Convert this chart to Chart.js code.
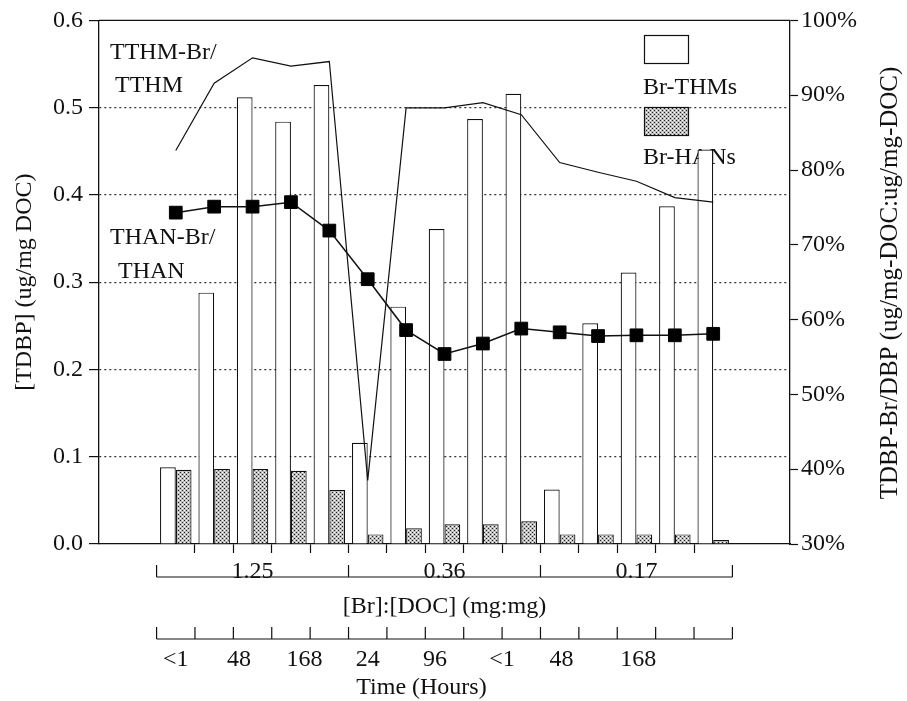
<!DOCTYPE html>
<html>
<head>
<meta charset="utf-8">
<script src="https://cdn.jsdelivr.net/npm/chart.js"></script>
<style>
    html, body { margin: 0; padding: 0; background: #fff; }
    #canvasGraph { display: block; }
</style>
</head>
<body>
<canvas id="canvasGraph" width="907" height="701"></canvas>
<script>
// groupes [Br]:[DOC] (5 temps de contact par groupe)
const ratios = ["1.25", "0.36", "0.17"]
const categoriesParRatio = 5
const categories = [0, 1, 2, 3, 4, 5, 6, 7, 8, 9, 10, 11, 12, 13, 14]
const tempsLabels = ["<1", "48", "168", "24", "96", "<1", "48", "168"]

// valeurs
const brTHMs = [0.088, 0.288, 0.512, 0.484, 0.526, 0.116, 0.272, 0.361, 0.487, 0.516, 0.0625, 0.253, 0.311, 0.387, 0.452]
const brHANs = [0.085, 0.086, 0.086, 0.084, 0.062, 0.011, 0.018, 0.0225, 0.0225, 0.026, 0.011, 0.011, 0.011, 0.011, 0.0045]
const tthmBrRatio = [82.6, 91.6, 95.0, 93.9, 94.5, 38.5, 88.3, 88.3, 89.0, 87.4, 81.0, 79.7, 78.5, 76.3, 75.7]
const thanBrRatio = [74.3, 75.1, 75.1, 75.7, 71.9, 65.4, 58.6, 55.4, 56.8, 58.8, 58.3, 57.8, 57.9, 57.9, 58.1]

const ticksGauche = [0, 0.1, 0.2, 0.3, 0.4, 0.5, 0.6]
const ticksDroite = [30, 40, 50, 60, 70, 80, 90, 100]

// placement des labels de temps (en unités de catégorie, comme sur l'original)
const tempsPositions = [0, 1.65, 3.35, 5, 6.75, 8.5, 10.05, 12.05]

const police = "'Liberation Serif', 'Times New Roman', serif"
const noir = "#111"

function creerMotif() {
    let c = document.createElement("canvas")
    c.width = 4
    c.height = 4
    let g = c.getContext("2d")
    g.fillStyle = "#bdbdbd"
    g.fillRect(0, 0, 4, 4)
    g.fillStyle = "#1e1e1e"
    g.fillRect(0, 0, 1, 1)
    g.fillRect(2, 2, 1, 1)
    g.fillStyle = "#ffffff"
    g.fillRect(2, 0, 1, 1)
    g.fillRect(0, 2, 1, 1)
    return g.createPattern(c, "repeat")
}

const motif = creerMotif()

function points(valeurs) {
    return categories.map((c, i) => ({x: c, y: valeurs[i]}))
}

const pluginDessins = {
    id: "dessins",
    beforeDatasetsDraw(chart) {
        let ctx = chart.ctx
        let zone = chart.chartArea
        ctx.save()
        // cadre du haut
        ctx.strokeStyle = noir
        ctx.lineWidth = 1.3
        ctx.beginPath()
        ctx.moveTo(zone.left, zone.top)
        ctx.lineTo(zone.right, zone.top)
        ctx.stroke()

        // textes dans le graphique
        ctx.fillStyle = noir
        ctx.font = "24px " + police
        ctx.textAlign = "left"
        ctx.textBaseline = "middle"
        ctx.fillText("TTHM-Br/", 110, 53)
        ctx.fillText("TTHM", 115, 86)
        ctx.fillText("THAN-Br/", 110, 238)
        ctx.fillText("THAN", 118, 272)

        // légende, dessinée sous les barres comme sur l'original
        ctx.lineWidth = 1.2
        ctx.fillStyle = "#fff"
        ctx.fillRect(644, 35, 44, 28)
        ctx.strokeRect(644.5, 35.5, 44, 28)
        ctx.fillStyle = motif
        ctx.fillRect(644, 107, 44, 28)
        ctx.strokeRect(644.5, 107.5, 44, 28)
        ctx.fillStyle = noir
        ctx.fillText("Br-THMs", 643, 88)
        ctx.fillText("Br-HANs", 643, 158)
        ctx.restore()
    },
    afterDraw(chart) {
        let ctx = chart.ctx
        let x = chart.scales.x
        const px = v => x.getPixelForValue(v)
        let fin = categories.length - 0.5
        ctx.save()
        ctx.strokeStyle = noir
        ctx.fillStyle = noir
        ctx.lineWidth = 1.2
        ctx.font = "24px " + police

        // crochets des ratios Br:DOC
        let yCrochet = 577
        ctx.beginPath()
        ctx.moveTo(px(-0.5), yCrochet)
        ctx.lineTo(px(fin), yCrochet)
        for (let g = 0; g <= ratios.length; g++) {
            let v = g * categoriesParRatio - 0.5
            ctx.moveTo(px(v), yCrochet)
            ctx.lineTo(px(v), yCrochet - 12)
        }
        ctx.stroke()
        ctx.textAlign = "center"
        ctx.textBaseline = "alphabetic"
        ratios.forEach((r, g) => {
            ctx.fillText(r, px(g * categoriesParRatio + (categoriesParRatio - 1) / 2), yCrochet + 1)
        })
        ctx.textBaseline = "middle"
        ctx.fillText("[Br]:[DOC] (mg:mg)", px(7), 607)

        // axe du temps
        let yTemps = 639
        ctx.beginPath()
        ctx.moveTo(px(-0.5), yTemps)
        ctx.lineTo(px(fin), yTemps)
        for (let v = -0.5; v <= fin; v++) {
            ctx.moveTo(px(v), yTemps)
            ctx.lineTo(px(v), yTemps - 12)
        }
        ctx.stroke()
        tempsLabels.forEach((t, i) => ctx.fillText(t, px(tempsPositions[i]), 660))
        ctx.fillText("Time (Hours)", px(6.4), 688)

        // titre de l'axe de droite (lu de bas en haut)
        ctx.translate(890, 283)
        ctx.rotate(-Math.PI / 2)
        ctx.font = "25px " + police
        ctx.fillText("TDBP-Br/DBP (ug/mg-DOC:ug/mg-DOC)", 0, 0)
        ctx.restore()
    }
}

function initGraph(nomCanvas) {
    let canvas = document.getElementById(nomCanvas)
    new Chart(canvas, {
        type: "bar",
        data: {
            datasets: [
                {
                    type: "line",
                    label: "TTHM-Br/TTHM",
                    yAxisID: "y2",
                    data: points(tthmBrRatio),
                    borderColor: noir,
                    borderWidth: 1.2,
                    pointRadius: 0,
                    tension: 0,
                    order: 0
                },
                {
                    type: "line",
                    label: "THAN-Br/THAN",
                    yAxisID: "y2",
                    data: points(thanBrRatio),
                    borderColor: noir,
                    borderWidth: 1.5,
                    pointStyle: "rect",
                    pointRadius: 9,
                    pointBackgroundColor: "#000",
                    pointBorderColor: "#000",
                    pointBorderWidth: 1,
                    tension: 0,
                    order: 0
                },
                {
                    label: "Br-THMs",
                    yAxisID: "y",
                    data: points(brTHMs),
                    backgroundColor: "#fff",
                    borderColor: noir,
                    borderWidth: 1.2,
                    categoryPercentage: 0.82,
                    barPercentage: 1,
                    order: 1
                },
                {
                    label: "Br-HANs",
                    yAxisID: "y",
                    data: points(brHANs),
                    backgroundColor: motif,
                    borderColor: noir,
                    borderWidth: 1.2,
                    categoryPercentage: 0.82,
                    barPercentage: 1,
                    order: 1
                }
            ]
        },
        options: {
            responsive: false,
            animation: false,
            devicePixelRatio: 1,
            layout: { padding: { top: 16, left: 0, right: 0, bottom: 0 } },
            plugins: {
                legend: { display: false },
                tooltip: { enabled: false }
            },
            scales: {
                x: {
                    type: "linear",
                    position: "bottom",
                    min: -2,
                    max: 16,
                    offset: false,
                    afterBuildTicks: (scale) => {
                        // petits traits entre les catégories
                        scale.ticks = categories.slice(1).map(c => ({ value: c - 0.5 }))
                    },
                    afterFit: (scale) => { scale.height = 157 },
                    ticks: { display: false },
                    grid: {
                        offset: false,
                        drawOnChartArea: false,
                        tickLength: 9,
                        color: noir,
                        tickColor: noir,
                        tickWidth: 1.2
                    },
                    border: { color: noir, width: 1.3 }
                },
                y: {
                    position: "left",
                    min: 0,
                    max: 0.6,
                    afterBuildTicks: (scale) => {
                        scale.ticks = ticksGauche.map(v => ({ value: v }))
                    },
                    afterFit: (scale) => { scale.width = 99 },
                    ticks: {
                        callback: (v) => Number(v).toFixed(1),
                        color: noir,
                        padding: 6,
                        font: { family: police, size: 24 }
                    },
                    grid: {
                        color: (c) => (c.tick && (c.tick.value === 0 || Math.abs(c.tick.value - 0.6) < 1e-9)) ? "rgba(0,0,0,0)" : "#333",
                        lineWidth: 1.2,
                        tickLength: 10,
                        tickColor: noir,
                        tickWidth: 1.2,
                        tickBorderDash: []
                    },
                    border: { color: noir, width: 1.3, dash: [2, 3] },
                    title: {
                        display: true,
                        text: "[TDBP] (ug/mg DOC)",
                        color: noir,
                        font: { family: police, size: 24 },
                        padding: { top: 10, bottom: 0 }
                    }
                },
                y2: {
                    position: "right",
                    min: 30,
                    max: 100,
                    afterBuildTicks: (scale) => {
                        scale.ticks = ticksDroite.map(v => ({ value: v }))
                    },
                    afterFit: (scale) => { scale.width = 117 },
                    ticks: {
                        callback: (v) => v + "%",
                        color: noir,
                        padding: 3,
                        font: { family: police, size: 24 }
                    },
                    grid: {
                        drawOnChartArea: false,
                        tickLength: 8,
                        color: noir,
                        tickColor: noir,
                        tickWidth: 1.2
                    },
                    border: { color: noir, width: 1.3 }
                }
            }
        },
        plugins: [pluginDessins]
    })
}

initGraph("canvasGraph")
</script>
</body>
</html>
